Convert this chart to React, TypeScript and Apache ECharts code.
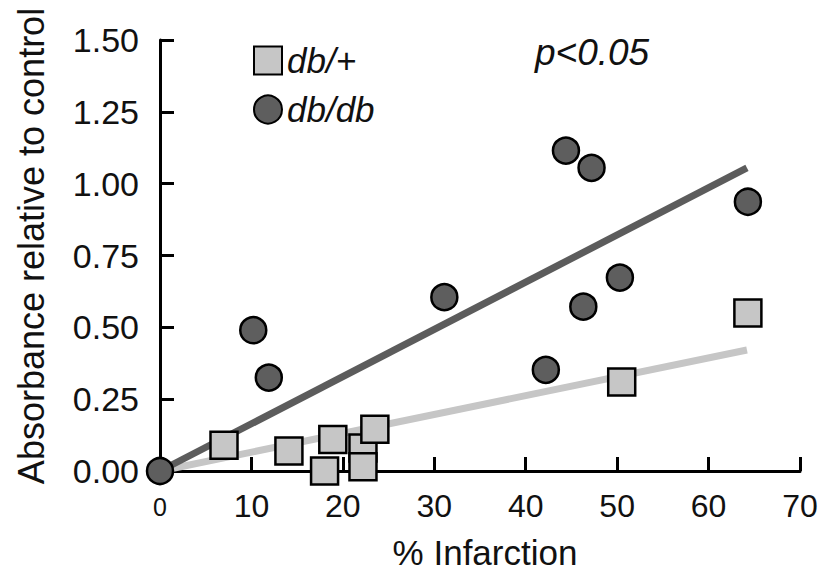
import React, { useEffect, useRef } from "react";
import * as echarts from "echarts";

const dbPlusX = [7.0, 14.1, 18.9, 18.0, 22.2, 22.2, 23.5, 50.5, 64.3];
const dbPlusY = [0.09, 0.07, 0.11, 0.0, 0.08, 0.015, 0.145, 0.31, 0.55];
const dbdbX = [0, 10.2, 11.9, 31.1, 42.2, 44.4, 47.2, 46.3, 50.3, 64.3];
const dbdbY = [0, 0.49, 0.325, 0.605, 0.352, 1.115, 1.055, 0.572, 0.673, 0.937];
const fitPlus = [[0, 0], [64.2, 0.421]];
const fitDbdb = [[0, 0], [64.2, 1.055]];
const xTicks = [0, 10, 20, 30, 40, 50, 60, 70];
const yTicks = ["0.00", "0.25", "0.50", "0.75", "1.00", "1.25", "1.50"];
const xTitle = "% Infarction";
const yTitle = "Absorbance relative to control";
const pText = "p<0.05";

const FONT = "'Liberation Sans', Arial, Helvetica, sans-serif";

export default function App() {
  const ref = useRef<HTMLDivElement>(null);
  useEffect(() => {
    const chart = echarts.init(ref.current!, null, { renderer: "svg" });
    const plusData = dbPlusX.map((x, i) => [x, dbPlusY[i]]);
    const dbdbData = dbdbX.map((x, i) => [x, dbdbY[i]]);
    chart.setOption({
      animation: false,
      backgroundColor: "#ffffff",
      textStyle: { fontFamily: FONT },
      grid: { left: 160, right: 23, top: 40, bottom: 102 },
      legend: {
        orient: "vertical",
        left: 248,
        top: 38,
        itemWidth: 28,
        itemHeight: 28,
        itemGap: 14,
        textStyle: { fontSize: 35, fontStyle: "italic", color: "#111", fontFamily: FONT },
        data: [
          { name: "db/+", icon: "rect" },
          { name: "db/db", icon: "circle" },
        ],
      },
      xAxis: {
        type: "value",
        min: 0,
        max: 70,
        interval: 10,
        axisLine: { lineStyle: { color: "#000", width: 3 } },
        axisTick: { inside: true, length: 14, lineStyle: { color: "#000", width: 3 } },
        splitLine: { show: false },
        axisLabel: {
          margin: 19,
          fontSize: 32,
          color: "#111",
          fontFamily: FONT,
          formatter: (v: number) => (v === xTicks[0] ? "{s|" + v + "}" : String(v)),
          rich: { s: { fontSize: 25, color: "#111", fontFamily: FONT, padding: [4, 0, 0, 0] } },
        },
      },
      yAxis: {
        type: "value",
        min: 0,
        max: 1.5,
        interval: 0.25,
        axisLine: { show: true, lineStyle: { color: "#000", width: 3 } },
        axisTick: { show: true, inside: true, length: 14, lineStyle: { color: "#000", width: 3 } },
        splitLine: { show: false },
        axisLabel: {
          margin: 21,
          fontSize: 34,
          color: "#111",
          fontFamily: FONT,
          formatter: (v: number) => yTicks[Math.round(v / 0.25)] ?? v.toFixed(2),
        },
      },
      graphic: [
        {
          type: "text",
          x: 535,
          y: 52,
          style: {
            text: pText,
            fontSize: 37,
            fontStyle: "italic",
            fontFamily: FONT,
            fill: "#111",
            verticalAlign: "middle",
            align: "left",
          },
        },
        {
          type: "text",
          x: 485,
          y: 552,
          style: {
            text: xTitle,
            fontSize: 35,
            fontFamily: FONT,
            fill: "#111",
            verticalAlign: "middle",
            align: "center",
          },
        },
        {
          type: "text",
          x: 31,
          y: 246,
          rotation: Math.PI / 2,
          style: {
            text: yTitle,
            fontSize: 36,
            fontFamily: FONT,
            fill: "#111",
            verticalAlign: "middle",
            align: "center",
          },
        },
      ],
      series: [
        {
          name: "fit db/+",
          type: "line",
          data: fitPlus,
          showSymbol: false,
          silent: true,
          lineStyle: { color: "#c6c6c6", width: 7, cap: "butt" },
          z: 1,
        },
        {
          name: "fit db/db",
          type: "line",
          data: fitDbdb,
          showSymbol: false,
          silent: true,
          lineStyle: { color: "#5c5c5c", width: 7, cap: "butt" },
          z: 1,
        },
        {
          name: "db/+",
          type: "scatter",
          symbol: "rect",
          symbolSize: 27,
          data: plusData,
          itemStyle: { color: "#c6c6c6", borderColor: "#000", borderWidth: 2.5, opacity: 1 },
          z: 3,
        },
        {
          name: "db/db",
          type: "scatter",
          symbol: "circle",
          symbolSize: 26,
          data: dbdbData,
          itemStyle: { color: "#5e5e5e", borderColor: "#000", borderWidth: 2.5, opacity: 1 },
          z: 4,
        },
      ],
    });
    return () => chart.dispose();
  }, []);
  return (
    <div
      ref={ref}
      style={{ position: "fixed", left: 0, top: 0, width: 823, height: 573, background: "#fff" }}
    />
  );
}
